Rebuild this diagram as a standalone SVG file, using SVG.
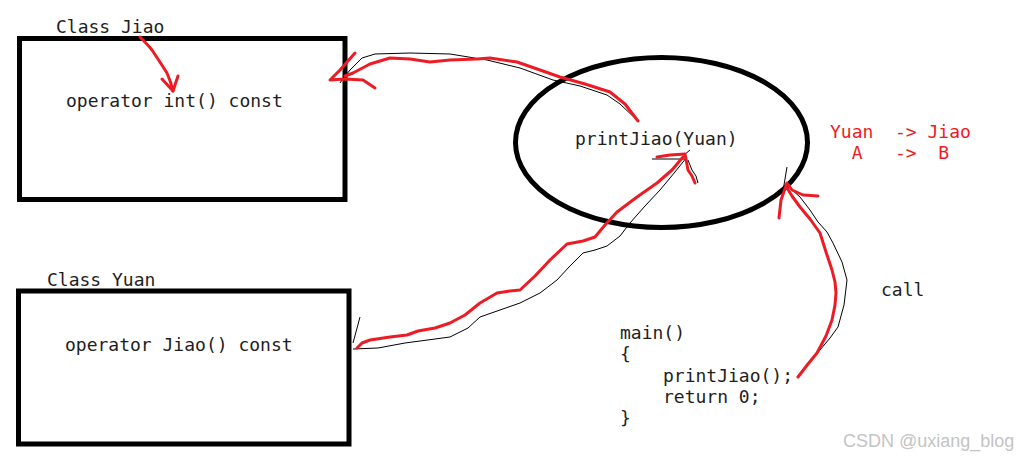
<svg xmlns="http://www.w3.org/2000/svg" width="1022" height="460" viewBox="0 0 1022 460">
<style>
.box{fill:none;stroke:#000;stroke-width:5}
.t{font-family:"DejaVu Sans Mono","Liberation Mono",monospace;font-size:18px;fill:#1e1e1e;white-space:pre}
.r{fill:#ed1c24}
.red{fill:none;stroke:#ed1c24;stroke-width:3;stroke-linecap:round;stroke-linejoin:round}
.thin{fill:none;stroke:#000;stroke-width:1;stroke-linejoin:round}
.wm{font-family:"Liberation Sans",Arial,sans-serif;font-size:18px;fill:#c4c4c4}
</style>
<rect width="1022" height="460" fill="#fff"/>
<g id="class-jiao">
<rect class="box" x="19.5" y="38.5" width="325.5" height="161"/>
<text class="t" x="56" y="33">Class Jiao</text>
<text class="t" x="66" y="107">operator int() const</text>
</g>
<g id="class-yuan">
<rect class="box" x="18.5" y="291" width="330.5" height="153"/>
<text class="t" x="47" y="286">Class Yuan</text>
<text class="t" x="65" y="351">operator Jiao() const</text>
</g>
<g id="printJiao">
<ellipse class="box" cx="661.5" cy="142.5" rx="146" ry="85"/>
<text class="t" x="575" y="145">printJiao(Yuan)</text>
</g>
<g id="note">
<text class="t r" x="830" y="138">Yuan  -&gt; Jiao</text>
<text class="t r" x="830" y="159">  A   -&gt;  B</text>
</g>
<g id="call-label">
<text class="t" x="881" y="296">call</text>
</g>
<g id="main">
<text class="t" x="620" y="339">main()</text>
<text class="t" x="620" y="360">{</text>
<text class="t" x="663" y="382">printJiao();</text>
<text class="t" x="663" y="403">return 0;</text>
<text class="t" x="620" y="424">}</text>
</g>
<g id="connectors">
<path class="red" d="M140,37 Q148,45 152,50 Q160,62 167,73 Q171,82 173,91"/>
<path class="red" d="M162,79 L173,91 L178,76"/>
<path class="thin" d="M637,120 L620,104 L607,95 L580,86 L553,80 L520,68 L487,60 L450,54 L410,53 L375,54 L362,58 L350,70 L342,80 L340,83"/>
<path class="red" d="M638,121 L625,104 L610,92 L585,84 L560,77 L540,70 L517,62 L490,58 L477,59 L450,60 L430,62 L410,59 L390,58 L370,64 L353,73 L345,76"/>
<path class="red" d="M355,53 L340,70 L330,80 L345,79 L363,80 L375,88"/>
<path class="thin" d="M353,349 L378,348 L405,343 L450,337 L468,328 L480,317 L500,310 L520,303 L540,293 L557,280 L570,266 L583,253 L595,250 L607,246 L620,236 L630,223 L645,206 L660,190 L675,172 L687,157"/>
<path class="thin" d="M360,317 L353,343"/>
<path class="thin" d="M652,159 L686,159"/>
<path class="thin" d="M688,160 L692,170 L696,176 L698,183"/>
<path class="thin" d="M684,155 L690,150"/>
<path class="red" d="M357,348 L362,343 L370,340 L390,337 L407,335 L418,331 L435,328 L450,323 L465,315 L480,303 L497,293 L510,291 L520,290 L535,276 L550,260 L567,244 L583,241 L595,237 L605,225 L617,212 L637,197 L657,183 L672,170 L683,157"/>
<path class="red" d="M657,157 L670,155 L685,154 L688,170 L692,176 L695,183"/>
<path class="thin" d="M797,378 L810,362 L820,350 L830,338 L838,327 L844,305 L847,280 L842,262 L833,243 L827,232 L818,222 L810,210 L800,197 L790,188"/>
<path class="thin" d="M787,167 L784,185 L780,207"/>
<path class="red" d="M798,377 L808,364 L817,353 L826,336 L832,320 L835,305 L836,293 L835,282 L832,270 L826,252 L820,233 L810,219 L800,207 L792,196 L787,188"/>
<path class="red" d="M779,218 L781,200 L787,183 L792,190 L803,195 L818,196"/>
</g>
<text class="wm" x="843" y="447">CSDN @uxiang_blog</text>
</svg>
